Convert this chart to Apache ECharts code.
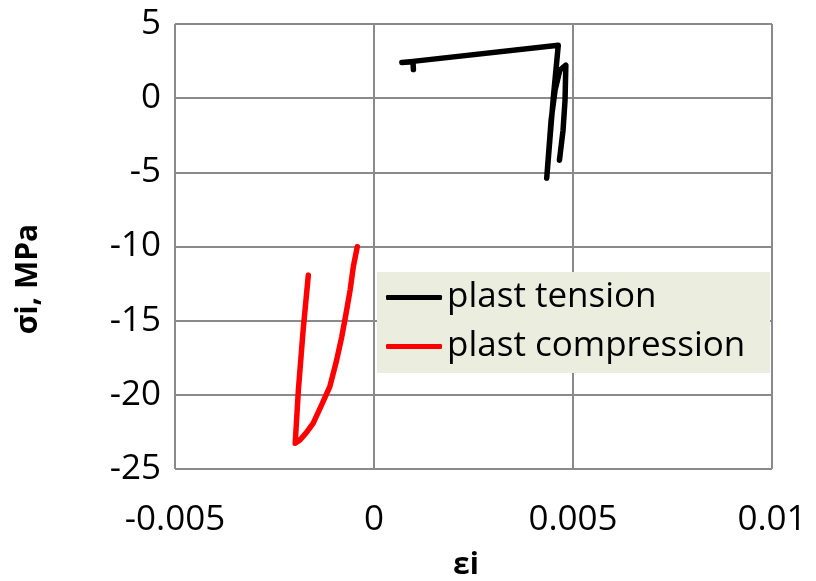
<!DOCTYPE html>
<html>
<head>
<meta charset="utf-8">
<script src="https://cdn.jsdelivr.net/npm/echarts@6/dist/echarts.min.js"></script>
<style>
  html, body { margin: 0; padding: 0; background: #fff; }
  #chart { width: 816px; height: 581px; }
</style>
</head>
<body>
<div id="chart"></div>
<script>
// Strain–stress paths for the plastic element
const seriesNames = ['plast tension', 'plast compression'];

const tensionStrain = [0.00099, 0.00098, 0.00070, 0.00098, 0.00463, 0.00450, 0.00434, 0.00445, 0.00455, 0.00467, 0.00482, 0.00480, 0.00475, 0.00466];
const tensionStress = [1.93, 2.45, 2.40, 2.48, 3.57, -0.13, -5.39, -1.48, 0.54, 1.89, 2.22, -0.13, -2.16, -4.18];

const compressionStrain = [-0.00165, -0.00178, -0.00190, -0.00198, -0.00186, -0.00170, -0.00153, -0.00133, -0.00111, -0.00095, -0.00081, -0.00070, -0.00060, -0.00052, -0.00042];
const compressionStress = [-11.93, -15.63, -19.68, -23.27, -23.05, -22.55, -21.92, -20.76, -19.45, -17.79, -16.09, -14.49, -12.94, -11.37, -10.02];

const xTicks = { min: -0.005, max: 0.01, interval: 0.005 };
const yTicks = { min: -25, max: 5, interval: 5 };

const pairs = (xs, ys) => xs.map((x, i) => [x, ys[i]]);

const labelFont = '"Open Sans", sans-serif';
const gridLine = { show: true, lineStyle: { color: '#8a8a8a', width: 2 } };

const chart = echarts.init(document.getElementById('chart'), null, { renderer: 'canvas' });
chart.setOption({
  animation: false,
  backgroundColor: '#ffffff',
  grid: { left: 175, right: 44, top: 24, bottom: 112, containLabel: false },
  xAxis: {
    type: 'value',
    min: xTicks.min, max: xTicks.max, interval: xTicks.interval,
    axisLine: { show: false },
    axisTick: { show: false },
    splitLine: gridLine,
    axisLabel: {
      color: '#000', fontSize: 35, fontFamily: labelFont, margin: 34,
      formatter: v => String(+v.toFixed(3))
    }
  },
  yAxis: {
    type: 'value',
    min: yTicks.min, max: yTicks.max, interval: yTicks.interval,
    axisLine: { show: false },
    axisTick: { show: false },
    splitLine: gridLine,
    axisLabel: { color: '#000', fontSize: 35, fontFamily: labelFont, margin: 14 }
  },
  legend: {
    orient: 'vertical',
    left: 386, top: 277,
    padding: 0,
    itemWidth: 56, itemHeight: 5, itemGap: 8,
    icon: 'roundRect',
    textStyle: { color: '#000', fontSize: 35, fontFamily: labelFont, lineHeight: 41 },
    data: seriesNames
  },
  graphic: [
    {
      type: 'rect', z: 3,
      shape: { x: 377, y: 272, width: 393, height: 101 },
      style: { fill: '#ebeedf' }
    },
    {
      type: 'text', x: 28, y: 279, rotation: Math.PI / 2,
      style: { text: 'σi, MPa', align: 'center', verticalAlign: 'middle', fill: '#000',
               font: 'bold 30px "Open Sans", sans-serif' }
    },
    {
      type: 'text', x: 466, y: 565,
      style: { text: 'εi', align: 'center', verticalAlign: 'middle', fill: '#000',
               font: 'bold 30px "Open Sans", sans-serif' }
    }
  ],
  series: [
    {
      name: seriesNames[0], type: 'line', symbol: 'none',
      data: pairs(tensionStrain, tensionStress),
      itemStyle: { color: '#000000' },
      lineStyle: { color: '#000000', width: 5.5, cap: 'round', join: 'round' },
      z: 5
    },
    {
      name: seriesNames[1], type: 'line', symbol: 'none',
      data: pairs(compressionStrain, compressionStress),
      itemStyle: { color: '#ff0000' },
      lineStyle: { color: '#ff0000', width: 5.5, cap: 'round', join: 'round' },
      z: 5
    }
  ]
});
</script>
</body>
</html>
